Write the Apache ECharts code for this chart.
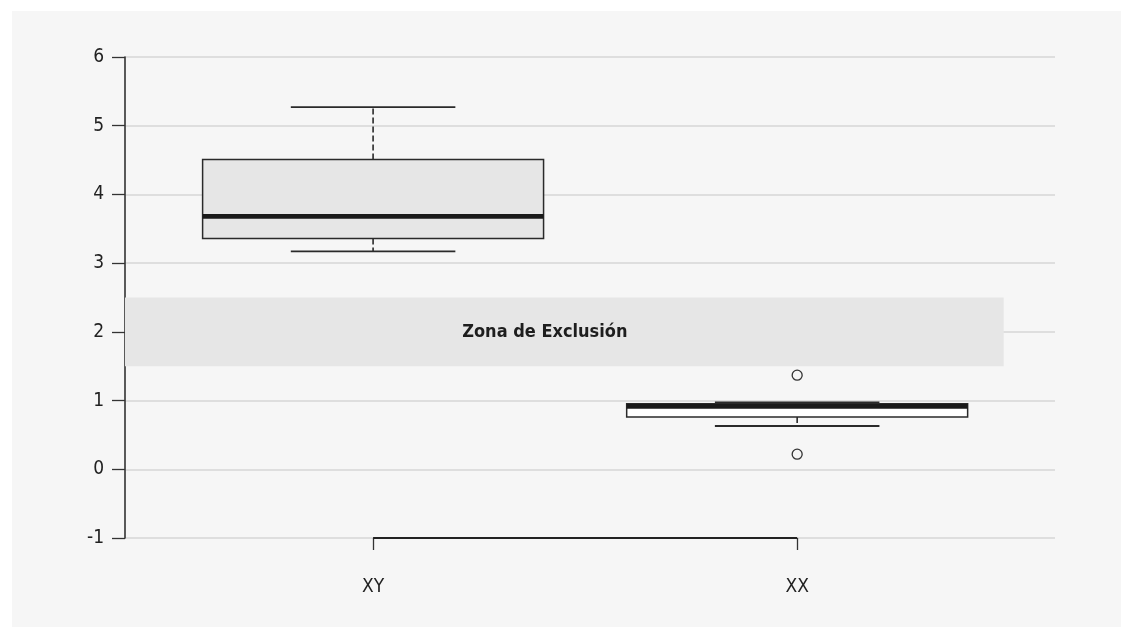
<!DOCTYPE html>
<html>
<head>
<meta charset="utf-8">
<script src="https://cdn.jsdelivr.net/npm/echarts@6/dist/echarts.min.js"></script>
<style>
  html, body { margin: 0; padding: 0; background: #ffffff; }
  #chart { position: absolute; left: 12px; top: 11px; width: 1109px; height: 616px; background: #f6f6f6; }
</style>
</head>
<body>
<div id="chart"></div>
<script>
// ---- data ----
var categories = ['XY', 'XX'];
var categoryPos = [1, 2];
var whiskerLow = [3.17, 0.63];
var quartile1 = [3.36, 0.76];
var medians = [3.68, 0.915];
var quartile3 = [4.51, 0.955];
var whiskerHigh = [5.27, 0.975];
var outlierPoints = [[2, 1.37], [2, 0.22]];
var yTickValues = [-1, 0, 1, 2, 3, 4, 5, 6];
var zoneLow = 1.5;
var zoneHigh = 2.5;
var zoneRightX = 2.487;
var zoneText = 'Zona de Exclusión';
var zoneTextX = 1.405;

var FONT = '"Liberation Sans Narrow", "DejaVu Sans Condensed", Roboto, sans-serif';
var X_MIN = 0.415, X_MAX = 2.608;
var BOX_HALF = 0.402, CAP_HALF = 0.194;

var boxData = categoryPos.map(function (p, i) {
  return [p, whiskerLow[i], quartile1[i], medians[i], quartile3[i], whiskerHigh[i], i];
});

var chart = echarts.init(document.getElementById('chart'), null, { renderer: 'canvas' });

chart.setOption({
  animation: false,
  backgroundColor: 'transparent',
  grid: { left: 113, right: 66, top: 46, bottom: 89 },
  xAxis: {
    type: 'value',
    min: X_MIN,
    max: X_MAX,
    axisLine: { show: false, onZero: false },
    splitLine: { show: false },
    axisTick: { show: true, customValues: categoryPos, length: 12, lineStyle: { color: '#333', width: 1.3 } },
    axisLabel: {
      customValues: categoryPos,
      margin: 40,
      fontFamily: FONT,
      fontSize: 19,
      color: '#222',
      formatter: function (v) { var i = categoryPos.indexOf(v); return i >= 0 ? categories[i] : ''; }
    }
  },
  yAxis: {
    type: 'value',
    min: -1,
    max: 6,
    interval: 1,
    axisLine: { show: true, onZero: false, lineStyle: { color: '#333', width: 1.6 } },
    axisTick: { show: true, length: 13, lineStyle: { color: '#333', width: 1.3 } },
    axisLabel: { margin: 21, fontFamily: FONT, fontSize: 19, color: '#222',
      formatter: function (v) { return yTickValues.indexOf(v) >= 0 ? String(v) : ''; } },
    splitLine: { show: true, lineStyle: { color: '#d6d6d6', width: 1.5 } }
  },
  series: [
    {
      type: 'custom',
      name: 'zone',
      z: 3,
      silent: true,
      data: [[X_MIN, zoneLow, zoneRightX, zoneHigh]],
      renderItem: function (params, api) {
        var a = api.coord([api.value(0), api.value(3)]);
        var b = api.coord([api.value(2), api.value(1)]);
        return { type: 'rect', shape: { x: a[0], y: a[1], width: b[0] - a[0], height: b[1] - a[1] }, style: { fill: '#e6e6e6' } };
      }
    },
    {
      type: 'scatter',
      name: 'zoneLabel',
      z: 4,
      silent: true,
      symbolSize: 0,
      itemStyle: { opacity: 1 },
      data: [[zoneTextX, (zoneLow + zoneHigh) / 2]],
      label: {
        show: true, position: 'inside', formatter: zoneText,
        fontFamily: FONT, fontWeight: 'bold', fontSize: 18, color: '#1e1e1e'
      }
    },
    {
      type: 'custom',
      name: 'xaxisline',
      z: 5,
      silent: true,
      clip: false,
      data: [[categoryPos[0], -1, categoryPos[categoryPos.length - 1]]],
      renderItem: function (params, api) {
        var a = api.coord([api.value(0), api.value(1)]);
        var b = api.coord([api.value(2), api.value(1)]);
        return { type: 'line', shape: { x1: a[0], y1: a[1], x2: b[0], y2: b[1] }, style: { stroke: '#222', lineWidth: 1.8 } };
      }
    },
    {
      type: 'custom',
      name: 'boxes',
      z: 6,
      silent: true,
      data: boxData,
      renderItem: function (params, api) {
        var x = api.value(0);
        var idx = api.value(6);
        var pLow = api.coord([x, api.value(1)]);
        var pQ1 = api.coord([x, api.value(2)]);
        var pMed = api.coord([x, api.value(3)]);
        var pQ3 = api.coord([x, api.value(4)]);
        var pHigh = api.coord([x, api.value(5)]);
        var left = api.coord([x - BOX_HALF, 0])[0];
        var right = api.coord([x + BOX_HALF, 0])[0];
        var cl = api.coord([x - CAP_HALF, 0])[0];
        var cr = api.coord([x + CAP_HALF, 0])[0];
        var cx = pMed[0];
        var stroke = '#2a2a2a';
        return {
          type: 'group',
          children: [
            { type: 'line', shape: { x1: cx, y1: pQ3[1], x2: cx, y2: pHigh[1] }, style: { stroke: stroke, lineWidth: 1.6, lineDash: [6, 3] } },
            { type: 'line', shape: { x1: cx, y1: pQ1[1], x2: cx, y2: pLow[1] }, style: { stroke: stroke, lineWidth: 1.6, lineDash: [6, 3] } },
            { type: 'line', shape: { x1: cl, y1: pHigh[1], x2: cr, y2: pHigh[1] }, style: { stroke: stroke, lineWidth: 1.8 } },
            { type: 'line', shape: { x1: cl, y1: pLow[1], x2: cr, y2: pLow[1] }, style: { stroke: stroke, lineWidth: 1.8 } },
            { type: 'rect', shape: { x: left, y: pQ3[1], width: right - left, height: pQ1[1] - pQ3[1] },
              style: { fill: idx === 0 ? '#e6e6e6' : '#ffffff', stroke: stroke, lineWidth: 1.5 } },
            { type: 'line', shape: { x1: left, y1: pMed[1], x2: right, y2: pMed[1] }, style: { stroke: '#1a1a1a', lineWidth: 4.8 } }
          ]
        };
      }
    },
    {
      type: 'scatter',
      name: 'outliers',
      z: 7,
      silent: true,
      symbol: 'circle',
      symbolSize: 10,
      data: outlierPoints,
      itemStyle: { color: 'rgba(0,0,0,0)', borderColor: '#333', borderWidth: 1.3, opacity: 1 }
    }
  ]
});
</script>
</body>
</html>
